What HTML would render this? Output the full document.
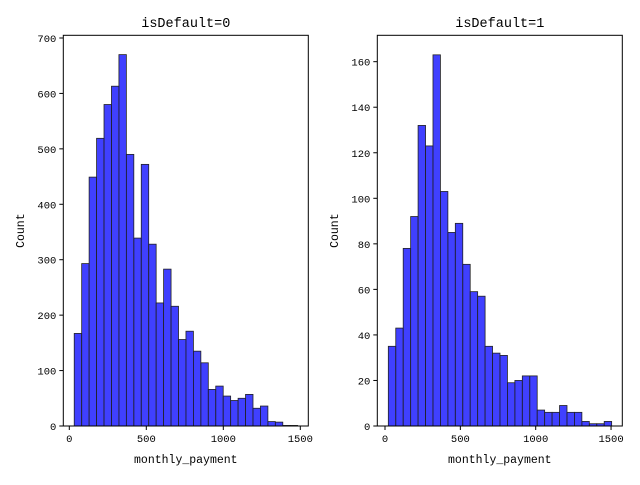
<!DOCTYPE html>
<html><head><meta charset="utf-8"><style>
html,body{margin:0;padding:0;background:#fff;}
svg text{font-family:"Liberation Mono","DejaVu Sans Mono",monospace;fill:#000;}
</style></head><body>
<svg id="chart" width="640" height="480" viewBox="0 0 640 480" xmlns="http://www.w3.org/2000/svg"></svg>
<script>
const leftCounts=[167,293,449,519,580,613,670,490,339,472,328,222,283,216,156,171,135,114,66,72,54,46,50,57,32,36,8,7,1,1];
const rightCounts=[35,43,78,92,132,123,163,103,85,89,71,59,57,35,32,31,19,20,22,22,7,6,6,9,6,6,2,1,1,2];
const leftRange=[32,1483];
const rightRange=[22,1504];
const xTicks=[0,500,1000,1500];
const leftYTicks=[0,100,200,300,400,500,600,700];
const rightYTicks=[0,20,40,60,80,100,120,140,160];
const titles=["isDefault=0","isDefault=1"];

const svg=document.getElementById('chart');
const NS='http://www.w3.org/2000/svg';
function mk(tag,attrs,parent){const e=document.createElementNS(NS,tag);for(const k in attrs)e.setAttribute(k,attrs[k]);(parent||svg).appendChild(e);return e;}

function panel(name,counts,range,yTicks,title,ax){
  const g=mk('g',{});
  
  
  const x=v=>ax.x0+(v-ax.xmin)*ax.xs;
  const y=v=>ax.yb-v*ax.ys;
  const n=counts.length,bw=(range[1]-range[0])/n;
  counts.forEach((c,i)=>{
    const r=mk('rect',{x:x(range[0]+i*bw),y:y(c),width:bw*ax.xs,height:c*ax.ys,fill:'rgba(0,0,255,0.75)',stroke:'#222','stroke-width':0.8},g);
    
    
  });
  const f=mk('rect',{x:ax.l,y:ax.t,width:ax.r-ax.l,height:ax.yb-ax.t,fill:'none',stroke:'#000','stroke-width':1},g);
  
  
  xTicks.forEach(t=>{
    mk('line',{x1:x(t),x2:x(t),y1:ax.yb,y2:ax.yb+4,stroke:'#000'},g);
    const tx=mk('text',{x:x(t),y:ax.yb+16,'font-size':10.5,'text-anchor':'middle'},g);
    tx.textContent=t;
    
    
  });
  yTicks.forEach(t=>{
    mk('line',{x1:ax.l-4,x2:ax.l,y1:y(t),y2:y(t),stroke:'#000'},g);
    const tx=mk('text',{x:ax.l-7,y:y(t)+4,'font-size':10.5,'text-anchor':'end'},g);
    tx.textContent=t;
    
    
  });
  const tt=mk('text',{x:(ax.l+ax.r)/2,y:27,'font-size':13.5,'text-anchor':'middle'},g);
  tt.textContent=title;
  
  
  const xl=mk('text',{x:(ax.l+ax.r)/2,y:463,'font-size':11.5,'text-anchor':'middle'},g);
  xl.textContent='monthly_payment';
  
  
  const yl=mk('text',{x:0,y:0,'font-size':11.5,'text-anchor':'middle',transform:`translate(${ax.ylx},${(ax.t+ax.yb)/2}) rotate(-90)`},g);
  yl.textContent='Count';
  
  
}
panel('left-histogram',leftCounts,leftRange,leftYTicks,titles[0],{l:63.3,r:308.3,t:35.3,yb:426,x0:69.3,xmin:0,xs:0.154,ys:0.5543,ylx:24});
panel('right-histogram',rightCounts,rightRange,rightYTicks,titles[1],{l:377.3,r:622.3,t:35.3,yb:426,x0:385,xmin:0,xs:0.1507,ys:2.277,ylx:338});
</script>
</body></html>
